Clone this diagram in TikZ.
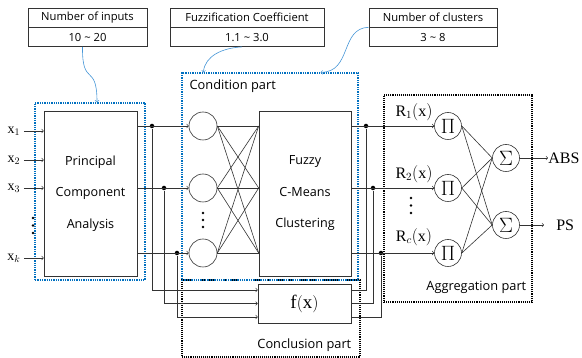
\documentclass[tikz,border=0pt]{standalone}
\usepackage{fontspec}
\setmainfont{Liberation Serif}
\newfontfamily\gothic{Open Sans}
\usetikzlibrary{positioning}

\definecolor{frameblue}{RGB}{0,112,192}
\definecolor{hintblue}{RGB}{70,150,215}

\begin{document}
\begin{tikzpicture}[x=1pt, y=-1pt, line width=0.6pt, draw=black!80,
		label box/.style={draw, minimum height=19pt, inner sep=0pt, font=\gothic\fontsize{11.2}{13}\selectfont},
		block/.style={draw, inner sep=0pt, align=center, font=\gothic\fontsize{12.6}{31.5}\selectfont},
		hub node/.style={circle, draw, minimum size=28pt, inner sep=0pt},
		op node/.style={circle, draw, minimum size=27pt, inner sep=0pt, font=\fontsize{22}{23}\selectfont},
		blue frame/.style={draw=frameblue, densely dotted, line width=1.3pt, inner sep=0pt},
		black frame/.style={draw=black, densely dotted, line width=1.1pt, inner sep=0pt},
		part label/.style={inner sep=0pt, font=\gothic\fontsize{12.8}{15}\selectfont},
		input label/.style={font=\fontsize{14}{16}\selectfont},
		rule label/.style={font=\fontsize{16}{18}\selectfont},
		tap/.style={circle, fill=black, inner sep=0pt, minimum size=4.5pt},
		dot/.style={circle, fill=black, inner sep=0pt, minimum size=2.6pt},
		hint/.style={->, draw=hintblue}]
		
		\useasboundingbox (0,0) rectangle (582,358);
		
		% frames
		\node[blue frame, minimum width=110pt, minimum height=177pt] (pcaframe) at (90,191.5) {};
		\node[black frame, minimum width=178pt, minimum height=77pt] (conclframe) at (271,318.5) {};
		\node[blue frame, minimum width=176pt, minimum height=207pt] (condframe) at (270,176.5) {};
		\node[black frame, minimum width=148pt, minimum height=207pt] (aggframe) at (458,198.5) {};
		
		\node[part label, below right=7pt and 8pt of condframe.north west] (condlabel) {Condition part};
		\node[part label, above left=6pt and 9pt of conclframe.south east] (concllabel) {Conclusion part};
		\node[part label, above left=9pt and 6pt of aggframe.south east] (agglabel) {Aggregation part};
		
		% parameter boxes
		\node[label box, minimum width=119pt] (nin) at (87.5,17.5) {Number of inputs};
		\node[label box, minimum width=119pt, below=0pt of nin] (ninval) {10 \textasciitilde\ 20};
		\node[label box, minimum width=154pt] (coef) at (247,17.5) {Fuzzification Coefficient};
		\node[label box, minimum width=154pt, below=0pt of coef] (coefval) {1.1 \textasciitilde\ 3.0};
		\node[label box, minimum width=128pt] (ncl) at (433,17.5) {Number of clusters};
		\node[label box, minimum width=128pt, below=0pt of ncl] (nclval) {3 \textasciitilde\ 8};
		
		\draw[hint] ([xshift=-5pt]ninval.south) .. controls (82,88) and (97,62) .. ([xshift=7pt]pcaframe.north);
		\draw[hint] ([xshift=-5pt]coefval.south) .. controls (222,48) and (205,56) .. ([xshift=22pt]condframe.north west);
		\draw[hint] (ncl.south west) .. controls (340,28) and (352,72) .. ([xshift=-38pt]condframe.north east);
		
		% blocks
		\node[block, minimum width=93pt, minimum height=165pt] (pca) at (90.5,193.5) {Principal\\Component\\Analysis};
		\node[block, minimum width=92pt, minimum height=165pt] (fcm) at (305,193.5) {Fuzzy\\C-Means\\Clustering};
		\node[draw, inner sep=0pt, minimum width=93pt, minimum height=39pt, font=\fontsize{19}{21}\selectfont] (fx) at (304.5,303.5) {$\mathrm{f}\bigl(\mathrm{x}\bigr)$};
		
		% inputs
		\node[input label] (x1) at (14,131) {$\mathrm{x}_1$};
		\node[input label] (x2) at (14,160) {$\mathrm{x}_2$};
		\node[input label] (x3) at (14,188) {$\mathrm{x}_3$};
		\node[input label] (xk) at (14,258) {$\mathrm{x}_k$};
		\foreach \y in {218,225.5,233}
		\node[dot] at (33,\y) {};
		\foreach \n in {x1,x2,x3,xk}
		\draw[->] (\n.east) -- (\n.east -| pca.west);
		
		% condition nodes
		\node[hub node] (c1) at (203,126) {};
		\node[hub node] (c2) at (203,188) {};
		\node[hub node] (c3) at (203,253) {};
		\foreach \y in {213,220,227}
		\node[dot] at (203,\y) {};
		
		\node[tap] (t1) at (152,126) {};
		\node[tap] (t2) at (164,188) {};
		\node[tap] (t3) at (177,253) {};
		\foreach \i in {1,2,3}
		\draw[->] (pca.east |- c\i) -- (c\i);
		\foreach \i in {1,2,3}
		\foreach \j in {1,2,3}
		\draw (c\i.east) -- (fcm.west |- c\j);
		
		\draw[->] (t1) |- ([yshift=13.5pt]fx.west);
		\draw[->] (t2) |- (fx.west);
		\draw[->] (t3) |- ([yshift=-13.5pt]fx.west);
		
		% aggregation nodes
		\node[op node] (p1) at (448,126) {$\Pi$};
		\node[op node] (p2) at (448,188) {$\Pi$};
		\node[op node] (p3) at (448,253) {$\Pi$};
		\node[op node] (s1) at (506,158) {$\Sigma$};
		\node[op node] (s2) at (506,225) {$\Sigma$};
		
		\node[tap] (t4) at (366,126) {};
		\node[tap] (t5) at (373,188) {};
		\node[tap] (t6) at (381,253) {};
		\foreach \i in {1,2,3}
		\draw[->] (fcm.east |- p\i) -- (p\i);
		\draw ([yshift=13.5pt]fx.east) -| (t4);
		\draw (fx.east) -| (t5);
		\draw ([yshift=-13.5pt]fx.east) -| (t6);
		
		\node[rule label] (r1) at (414,112) {$\mathrm{R}_1\bigl(\mathrm{x}\bigr)$};
		\node[rule label] (r2) at (414,174) {$\mathrm{R}_2\bigl(\mathrm{x}\bigr)$};
		\node[rule label] (rc) at (414,237) {$\mathrm{R}_c\bigl(\mathrm{x}\bigr)$};
		\foreach \y in {198,205.5,213}
		\node[dot] at (411,\y) {};
		
		\foreach \i in {1,2,3}
		\foreach \j in {1,2}
		\draw (p\i.east) -- (s\j.west);
		
		\node[anchor=west, inner sep=0pt, font=\fontsize{16}{18}\selectfont] (abs) at (548,158) {ABS};
		\node[anchor=west, inner sep=0pt, font=\fontsize{16}{18}\selectfont] (ps) at (556,225) {PS};
		\draw[->] (s1) -- (abs);
		\draw[->, shorten >=12pt] (s2) -- (ps);
		\end{tikzpicture}
\end{document}
